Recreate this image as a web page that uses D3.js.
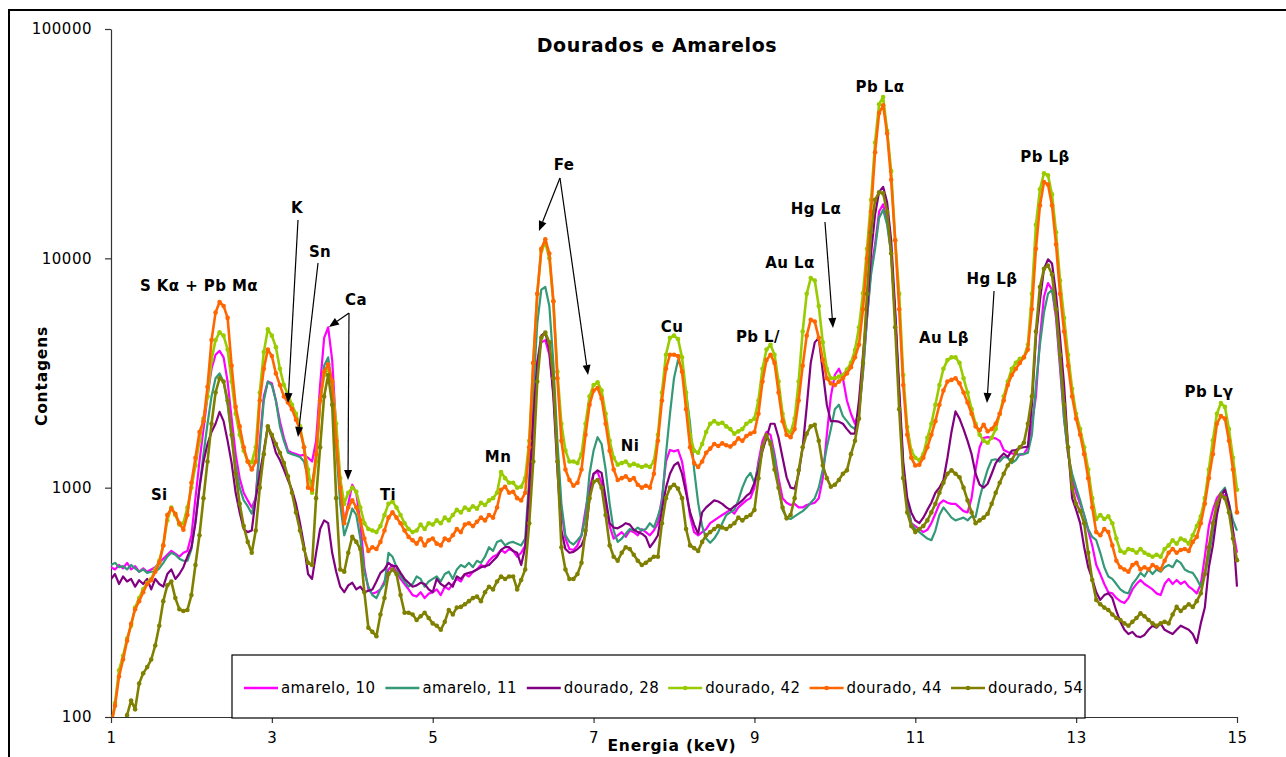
<!DOCTYPE html>
<html>
<head>
<meta charset="utf-8">
<script src="https://cdn.jsdelivr.net/npm/d3@7"></script>
<style>
  body { margin: 0; background: #fff; }
  svg { display: block; font-family: "DejaVu Sans", Verdana, sans-serif; }
</style>
</head>
<body>
<svg id="chart" width="1286" height="757"></svg>
<script>
// XRF spectra, counts per 0.05 keV channel from 1.00 to 15.00 keV
const energyStart = 1.0;
const energyStep = 0.05;

const amarelo10 = [
  450, 440, 460, 445, 470, 440, 455, 430, 445, 430,
  440, 450, 470, 490, 510, 530, 515, 500, 520, 530,
  620, 900, 1300, 1800, 2500, 3300, 3800, 3950, 3700, 2900,
  2000, 1400, 1100, 950, 880, 820, 900, 1600, 2500, 2900,
  2850, 2400, 1950, 1650, 1450, 1420, 1400, 1380, 1390, 1350,
  1300, 1600, 2800, 4500, 5000, 3600, 1800, 1050, 700, 850,
  1030, 950, 700, 450, 360, 345, 350, 360, 390, 440,
  460, 430, 400, 380, 360, 340, 335, 350, 330, 345,
  350, 360, 340, 370, 360, 380, 400, 390, 420, 410,
  430, 440, 460, 450, 480, 500, 510, 535, 520, 540,
  530, 500, 520, 560, 800, 1800, 3500, 4300, 4400, 3800,
  2600, 1400, 800, 600, 540, 535, 560, 620, 800, 1000,
  1150, 1170, 1050, 850, 680, 600, 620, 640, 610, 650,
  640, 620, 660, 640, 620, 650, 700, 900, 1300, 1460,
  1440, 1460, 1300, 1000, 750, 640, 620, 640, 660, 700,
  720, 740, 760, 780, 800, 770, 820, 850, 880, 900,
  1000, 1300, 1600, 1750, 1700, 1400, 1100, 900, 860, 840,
  850, 820, 820, 840, 850, 860, 900, 1100, 1700, 2500,
  3100, 3300, 3000, 2400, 2100, 1900, 2150, 3200, 5500, 9000,
  11500, 16000, 17200, 14500, 10500, 5500, 2500, 1200, 850, 700,
  680, 660, 640, 655, 700, 770, 850, 880, 860, 850,
  850, 820, 790, 780, 900, 1200, 1500, 1650, 1660, 1650,
  1640, 1600, 1460, 1430, 1410, 1400, 1390, 1400, 1500, 1900,
  2500, 4500, 6800, 7800, 7300, 5500, 3300, 2000, 1400, 1100,
  950, 850, 760, 650, 560, 460, 420, 380, 350, 346,
  330, 320, 314, 330, 360, 380, 396, 380, 370, 360,
  346, 340, 380, 400, 380, 396, 380, 390, 370, 360,
  346, 380, 500, 680, 800, 900, 950, 920, 830, 650,
  520
];

const amarelo11 = [
  460, 470, 450, 455, 440, 460, 445, 430, 440, 425,
  430, 430, 445, 470, 500, 520, 510, 490, 480, 480,
  540, 720, 1000, 1400, 1900, 2500, 3000, 3150, 2900, 2300,
  1650, 1250, 1000, 880, 830, 770, 900, 1500, 2400, 2900,
  2800, 2400, 1850, 1600, 1420, 1400, 1380, 1360, 1300, 1100,
  1050, 1300, 2300, 3400, 3700, 2800, 1500, 850, 620, 700,
  810, 760, 600, 430, 370, 340, 330, 360, 380, 520,
  500, 450, 410, 390, 370, 380, 410, 400, 370, 390,
  400, 410, 390, 420, 430, 400, 440, 460, 450, 470,
  450, 480, 470, 500, 550, 530, 580, 590, 560, 575,
  580, 570, 560, 600, 1100, 2600, 5200, 7300, 7500, 6200,
  3500, 1600, 850, 620, 580, 565, 590, 620, 750, 1150,
  1450, 1660, 1550, 1200, 850, 650, 580, 600, 630, 660,
  650, 670, 650, 660, 700, 670, 750, 860, 1400, 2100,
  3000, 3600, 3300, 2600, 1900, 1200, 860, 680, 600, 575,
  600, 640, 700, 760, 780, 800, 880, 1000, 1100, 1160,
  1050, 1250, 1500, 1650, 1600, 1350, 1000, 800, 740, 730,
  750, 770, 790, 820, 860, 900, 1000, 1200, 1500, 1800,
  2200, 2300, 2050, 1950, 1850, 1800, 2100, 3200, 5500, 8500,
  11000, 15000, 16300, 14000, 10500, 5500, 2500, 1200, 850, 700,
  660, 640, 620, 600, 590, 650, 760, 820, 780, 740,
  720, 730, 740, 720, 750, 745, 900, 1050, 1200, 1320,
  1330, 1300, 1360, 1350, 1280, 1320, 1400, 1400, 1420, 1700,
  2800, 4200, 5800, 7000, 7300, 5800, 3500, 2000, 1400, 1150,
  1000, 880, 760, 660, 610, 590, 520, 450, 410, 400,
  380, 360, 350, 346, 380, 400, 425, 410, 440, 420,
  440, 430, 450, 460, 450, 483, 470, 440, 430, 425,
  400, 370, 420, 500, 650, 800, 950, 1000, 850, 720,
  650
];

const dourado28 = [
  400, 420, 380, 410, 390, 400, 370, 395, 380, 400,
  360, 400, 380, 370, 420, 440, 400, 420, 450, 500,
  550, 700, 1000, 1300, 1550, 1750, 1900, 2140, 1950, 1600,
  1280, 950, 780, 660, 640, 650, 900, 1150, 1450, 1850,
  1650, 1420, 1320, 1200, 1080, 980, 850, 700, 560, 420,
  400, 520, 660, 720, 700, 520, 430, 370, 350, 375,
  385, 360, 370, 350, 355, 360, 390, 425, 440, 470,
  455, 455, 425, 400, 385, 370, 375, 385, 380, 360,
  350, 400, 380, 370, 385, 370, 410, 400, 420, 425,
  430, 440, 450, 455, 460, 480, 500, 535, 550, 550,
  530, 520, 460, 550, 1000, 2000, 3500, 4600, 4750, 4000,
  2500, 1200, 650, 540, 520, 525, 540, 560, 620, 900,
  1150, 1190, 1160, 900, 700, 670, 665, 680, 700, 690,
  655, 640, 630, 610, 550, 580, 620, 800, 1000, 1150,
  1250, 1290, 1150, 950, 780, 690, 630, 780, 820, 850,
  880, 870, 850, 820, 800, 830, 850, 880, 920, 950,
  1050, 1200, 1450, 1650, 1900, 1900, 1650, 1350, 1110, 1000,
  990, 1150, 1500, 2250, 3500, 4300, 4500, 3200, 2300, 1950,
  1950, 1940, 1900, 1800, 1720, 1720, 2400, 3800, 5900, 10500,
  15500, 19500, 20500, 17500, 12000, 6000, 2700, 1300, 900, 780,
  720, 700, 740, 800, 860, 950, 1000, 1080, 1350, 1750,
  2150, 2000, 1800, 1600, 1400, 1150, 1030, 1000, 1040, 1150,
  1280, 1350, 1410, 1360, 1450, 1460, 1490, 1500, 1510, 2300,
  4500, 6550, 9000, 9900, 9500, 7000, 4500, 2800, 1500, 900,
  800, 700, 550, 450, 400, 350, 324, 340, 346, 330,
  290, 260, 240, 230, 235, 225, 223, 228, 240, 250,
  245, 256, 240, 235, 230, 240, 250, 245, 240, 230,
  210, 256, 300, 450, 560, 760, 920, 980, 850, 650,
  370
];

const dourado42 = [
  90, 115, 160, 185, 220, 250, 300, 330, 360, 385,
  400, 440, 480, 560, 720, 820, 760, 690, 700, 820,
  1000, 1250, 1600, 2000, 2500, 3600, 4400, 4760, 4600, 4000,
  2900, 2100, 1700, 1450, 1300, 1290, 1500, 2600, 3900, 4900,
  4600, 4100, 3300, 2800, 2550, 2300, 2100, 1850, 1500, 1200,
  950, 1300, 2400, 3100, 3300, 2900, 1900, 1100, 850, 950,
  1000, 960, 820, 700, 660, 650, 640, 680, 760, 850,
  870, 820, 760, 700, 660, 640, 650, 690, 660, 700,
  690, 720, 700, 740, 720, 760, 800, 780, 820, 800,
  830, 810, 860, 840, 880, 900, 950, 1170, 1100, 1050,
  1050, 1000, 1010, 1100, 1600, 3500, 7000, 10800, 11700, 10000,
  6500, 3200, 1900, 1450, 1300, 1300, 1280, 1400, 1900, 2500,
  2800, 2880, 2650, 2100, 1600, 1350, 1260, 1280, 1300, 1250,
  1270, 1250, 1230, 1250, 1230, 1300, 1700, 2600, 3800, 4500,
  4600, 4450, 3700, 2600, 1700, 1450, 1420, 1550, 1750, 1900,
  1950, 1900, 1920, 1850, 1800, 1720, 1760, 1800, 1900, 1950,
  2000, 2400, 3300, 4000, 4200, 3800, 2900, 2100, 1780, 1740,
  2000, 2900, 4800, 7000, 8200, 8000, 6200, 4300, 3300, 3000,
  3000, 3050, 3100, 3270, 3500, 3980, 5000, 7050, 11000, 18000,
  32000, 47000, 50500, 36000, 24000, 12000, 7000, 3100, 1840, 1450,
  1350, 1320, 1400, 1650, 1900, 2300, 2800, 3300, 3600, 3700,
  3700, 3500, 3000, 2600, 2200, 1900, 1700, 1600, 1570, 1650,
  1800, 2100, 2500, 2900, 3300, 3500, 3650, 3700, 4200, 7000,
  14000, 20000, 23500, 23000, 19000, 13000, 8000, 5500, 3800, 2700,
  2100, 1800, 1500, 1200, 900, 730, 760, 730, 750, 700,
  600, 530, 520, 540, 535, 520, 540, 520, 510, 500,
  510, 500, 540, 560, 590, 570, 600, 590, 570, 620,
  680, 750, 900, 1200, 1610, 2100, 2340, 2250, 1800, 1350,
  980
];

const dourado44 = [
  92, 112, 150, 178, 215, 255, 295, 320, 350, 380,
  395, 430, 470, 560, 760, 810, 770, 700, 655, 760,
  1050, 1350, 1750, 1950, 2750, 4400, 5800, 6450, 6200, 5500,
  3400, 2250, 1850, 1500, 1300, 1200, 1300, 2400, 3300, 4000,
  3750, 3150, 2800, 2500, 2350, 2200, 1980, 1790, 1500, 1000,
  980, 1400, 2400, 3200, 3450, 2900, 1600, 1000, 700, 820,
  880, 820, 720, 600, 530, 550, 540, 580, 650, 740,
  780, 740, 700, 650, 610, 590, 570, 600, 560, 590,
  600, 570, 560, 600, 590, 620, 660, 640, 690, 700,
  680, 710, 740, 720, 760, 740, 820, 980, 1010, 950,
  960, 900, 880, 950, 1500, 3500, 7000, 11000, 12100, 10500,
  6500, 3000, 1600, 1200, 1080, 1020, 1050, 1200, 1700, 2300,
  2650, 2720, 2450, 1900, 1450, 1200, 1080, 1100, 1120, 1080,
  1100, 1030, 1000, 1020, 1000, 1150, 1600, 2400, 3300, 3800,
  3800, 3750, 3200, 2200, 1500, 1280, 1230, 1300, 1420, 1480,
  1550, 1520, 1560, 1530, 1510, 1560, 1640, 1600, 1680, 1720,
  1750, 2100, 2900, 3600, 3800, 3500, 2600, 1950, 1700, 1660,
  1800, 2400, 3400, 4600, 5400, 5300, 4500, 3600, 3000, 2850,
  2800, 2900, 3000, 3150, 3350, 3700, 4200, 6000, 10000, 16000,
  29000, 43000, 46500, 35000, 22000, 12000, 6000, 2800, 1700, 1350,
  1250, 1260, 1350, 1500, 1700, 1950, 2300, 2650, 2900, 2950,
  3000, 2850, 2600, 2350, 2100, 1850, 1780, 1880, 1760, 1800,
  1900, 2100, 2400, 2800, 3100, 3300, 3500, 3700, 4000, 6000,
  11000, 17000, 21500, 21000, 17000, 11500, 7000, 4800, 3400, 2500,
  2000, 1700, 1400, 1100, 820, 640, 620, 660, 640, 560,
  480, 450, 440, 430, 460, 470, 440, 450, 440, 460,
  450, 440, 480, 520, 540, 520, 535, 540, 530, 580,
  610, 700, 850, 1100, 1400, 1900, 2050, 2000, 1600, 1200,
  780
];

const dourado54 = [
  60, 70, 80, 92, 102, 118, 108, 140, 155, 165,
  178, 205, 250, 320, 375, 390, 330, 295, 290, 293,
  340, 460, 620, 900, 1300, 1900, 2600, 3000, 2900, 2400,
  1700, 1150, 850, 680, 580, 520, 650, 1000, 1400, 1850,
  1700, 1550, 1420, 1280, 1120, 950, 780, 650, 540, 470,
  460, 900, 1500, 2500, 3100, 2300, 900, 440, 430, 520,
  610, 580, 540, 350, 245, 235, 225, 280, 330, 420,
  440, 420, 340, 285, 285, 280, 265, 275, 285, 270,
  256, 250, 240, 260, 293, 280, 300, 302, 310, 320,
  330, 335, 320, 350, 370, 360, 390, 410, 400, 410,
  410, 360, 396, 440, 700, 1300, 2900, 4500, 4750, 4300,
  3000, 1300, 550, 440, 400, 400, 420, 470, 650, 900,
  1060, 1080, 1000, 760, 560, 500, 480, 520, 550, 540,
  510, 480, 460, 470, 485, 500, 500, 700, 900, 1000,
  1030, 990, 900, 660, 560, 545, 530, 580, 620, 640,
  660, 680, 670, 660, 680, 700, 740, 720, 745, 760,
  800, 1100, 1500, 1690, 1550, 1200, 1000, 820, 735, 760,
  900, 1190, 1500, 1720, 1850, 1880, 1600, 1250, 1100, 1010,
  1030, 1080, 1150, 1190, 1400, 1600, 2000, 3500, 7000, 13000,
  18000, 19400, 19200, 16000, 10500, 5000, 2200, 1100, 780, 680,
  640, 660, 680, 720, 780, 850, 950, 1050, 1150, 1190,
  1150, 1110, 1000, 880, 780, 700, 720, 740, 770, 850,
  950, 1050, 1150, 1250, 1320, 1420, 1500, 1570, 1900, 2500,
  4800, 7500, 9000, 9300, 8500, 6000, 3800, 2300, 1500, 1000,
  850, 790, 700, 520, 396, 324, 310, 300, 293, 280,
  270, 265, 256, 250, 260, 270, 283, 275, 265, 256,
  250, 256, 260, 256, 280, 302, 290, 300, 310, 302,
  320, 346, 420, 550, 700, 850, 930, 900, 780, 600,
  483
];

const seriesNames = ["amarelo, 10", "amarelo, 11", "dourado, 28", "dourado, 42", "dourado, 44", "dourado, 54"];
const seriesValues = [amarelo10, amarelo11, dourado28, dourado42, dourado44, dourado54];
const seriesColors = ["#ff00ff", "#339977", "#800080", "#99cc00", "#ff6600", "#808000"];
const seriesMarked = [false, false, false, true, true, true];

const xTicks = [1, 3, 5, 7, 9, 11, 13, 15];
const yTicks = [100, 1000, 10000, 100000];

// Peak identifications: [text, energy (keV), counts]
const peakLabels = [
  ["S K\u03b1 + Pb M\u03b1", 2.094, 7570],
  ["Si", 1.60, 929],
  ["K", 3.313, 16580],
  ["Sn", 3.599, 10660],
  ["Ca", 4.046, 6580],
  ["Ti", 4.444, 929],
  ["Mn", 5.812, 1360],
  ["Fe", 6.632, 25530],
  ["Ni", 7.453, 1519],
  ["Cu", 7.975, 5019],
  ["Pb L/", 9.044, 4540],
  ["Au L\u03b1", 9.442, 9543],
  ["Hg L\u03b1", 9.765, 16410],
  ["Pb L\u03b1", 10.561, 55870],
  ["Au L\u03b2", 11.357, 4495],
  ["Hg L\u03b2", 11.954, 8124],
  ["Pb L\u03b2", 12.612, 27660],
  ["Pb L\u03b3", 14.651, 2614]
];

// Pointer arrows: [start energy, start counts, tip energy, tip counts]
const peakArrows = [
  [3.325, 14700, 3.201, 2340],
  [3.574, 9543, 3.325, 1663],
  [3.959, 5778, 3.710, 5019],
  [3.959, 5778, 3.947, 1080],
  [6.582, 22400, 6.321, 13160],
  [6.582, 22400, 6.931, 3099],
  [9.877, 14400, 9.977, 4970],
  [11.979, 7205, 11.891, 2340]
];

const svg = d3.select("#chart");
const W = 1286, H = 757;
const plot = { left: 111, right: 1237, top: 29, bottom: 717 };

const x = d3.scaleLinear().domain([1, 15]).range([plot.left, plot.right]);
const y = d3.scaleLog().domain([100, 100000]).range([plot.bottom, plot.top]);

svg.append("rect").attr("width", W).attr("height", H).attr("fill", "#fff");
// chart frame
svg.append("rect")
  .attr("x", 9).attr("y", 10).attr("width", 1300).attr("height", 780)
  .attr("fill", "none").attr("stroke", "#000").attr("stroke-width", 2);

svg.append("defs").append("clipPath").attr("id", "plotClip")
  .append("rect")
  .attr("x", plot.left).attr("y", plot.top - 2)
  .attr("width", plot.right - plot.left + 3)
  .attr("height", plot.bottom - plot.top + 2);

// axes
const yAxis = d3.axisLeft(y).tickValues(yTicks).tickFormat(d3.format("d"))
  .tickSize(6).tickSizeOuter(0).tickPadding(13);
const xAxis = d3.axisBottom(x).tickValues(xTicks).tickFormat(d3.format("d"))
  .tickSize(6).tickSizeOuter(0).tickPadding(9);

const gy = svg.append("g").attr("transform", `translate(${plot.left},0)`).call(yAxis);
const gx = svg.append("g").attr("transform", `translate(0,${plot.bottom})`).call(xAxis);
[gx, gy].forEach(g => {
  g.select(".domain").attr("stroke", "#333").attr("stroke-width", 1.2);
  g.selectAll(".tick line").attr("stroke", "#333").attr("stroke-width", 1.2);
  g.selectAll(".tick text").attr("fill", "#000")
    .style("font-family", '"DejaVu Sans", Verdana, sans-serif')
    .style("font-size", "15px")
    .style("letter-spacing", "0.5px");
});

// series
const energies = d3.range(seriesValues[0].length).map(i => energyStart + i * energyStep);
const series = seriesNames.map((name, k) => ({
  name, color: seriesColors[k], marked: seriesMarked[k],
  points: energies.map((e, i) => ({ e, v: seriesValues[k][i] }))
}));

const line = d3.line()
  .x(d => x(d.e))
  .y(d => y(Math.max(d.v, 50)));

const gSeries = svg.append("g").attr("clip-path", "url(#plotClip)");
series.forEach(s => {
  const g = gSeries.append("g");
  g.append("path")
    .datum(s.points)
    .attr("fill", "none")
    .attr("stroke", s.color)
    .attr("stroke-width", s.marked ? 2.6 : 2.2)
    .attr("stroke-linejoin", "round")
    .attr("d", line);
  if (s.marked) {
    g.selectAll("circle")
      .data(s.points)
      .join("circle")
      .attr("cx", d => x(d.e))
      .attr("cy", d => y(Math.max(d.v, 50)))
      .attr("r", 2.3)
      .attr("fill", s.color);
  }
});

// annotations
const gAnn = svg.append("g");
gAnn.selectAll("text")
  .data(peakLabels)
  .join("text")
  .attr("x", d => x(d[1]))
  .attr("y", d => y(d[2]))
  .attr("text-anchor", "middle")
  .attr("dominant-baseline", "central")
  .style("font-weight", "bold")
  .style("font-size", "15px")
  .style("letter-spacing", "0.4px")
  .attr("fill", "#000")
  .text(d => d[0]);

peakArrows.forEach(a => {
  const x0 = x(a[0]), y0 = y(a[1]), x1 = x(a[2]), y1 = y(a[3]);
  const ang = Math.atan2(y1 - y0, x1 - x0);
  const len = 10, half = 4;
  const bx = x1 - len * Math.cos(ang), by = y1 - len * Math.sin(ang);
  gAnn.append("line")
    .attr("x1", x0).attr("y1", y0).attr("x2", bx).attr("y2", by)
    .attr("stroke", "#000").attr("stroke-width", 1.2);
  const px = -Math.sin(ang) * half, py = Math.cos(ang) * half;
  gAnn.append("path")
    .attr("d", `M${x1},${y1}L${bx + px},${by + py}L${bx - px},${by - py}Z`)
    .attr("fill", "#000");
});

// title and axis titles
svg.append("text")
  .attr("x", 657).attr("y", 45)
  .attr("text-anchor", "middle").attr("dominant-baseline", "central")
  .style("font-weight", "bold").style("font-size", "19px")
  .style("letter-spacing", "0.6px")
  .text("Dourados e Amarelos");

svg.append("text")
  .attr("transform", "translate(42,376) rotate(-90)")
  .attr("text-anchor", "middle").attr("dominant-baseline", "central")
  .style("font-weight", "bold").style("font-size", "15.5px")
  .style("letter-spacing", "0.8px")
  .text("Contagens");

svg.append("text")
  .attr("x", 672).attr("y", 746)
  .attr("text-anchor", "middle").attr("dominant-baseline", "central")
  .style("font-weight", "bold").style("font-size", "15.5px")
  .style("letter-spacing", "0.8px")
  .text("Energia (keV)");

// legend
const legend = svg.append("g");
legend.append("rect")
  .attr("x", 232).attr("y", 655).attr("width", 853).attr("height", 63)
  .attr("fill", "#fff").attr("stroke", "#000").attr("stroke-width", 1.2);
const legendX = d3.scalePoint().domain(seriesNames).range([244, 951]);
series.forEach(s => {
  const lx = legendX(s.name), ly = 688;
  legend.append("line")
    .attr("x1", lx).attr("x2", lx + 34).attr("y1", ly).attr("y2", ly)
    .attr("stroke", s.color).attr("stroke-width", 2.6);
  if (s.marked) {
    legend.append("circle").attr("cx", lx + 17).attr("cy", ly).attr("r", 2.3).attr("fill", s.color);
  }
  legend.append("text")
    .attr("x", lx + 37).attr("y", ly)
    .attr("dominant-baseline", "central")
    .style("font-size", "15px")
    .style("letter-spacing", "0.4px")
    .text(s.name);
});
</script>
</body>
</html>
